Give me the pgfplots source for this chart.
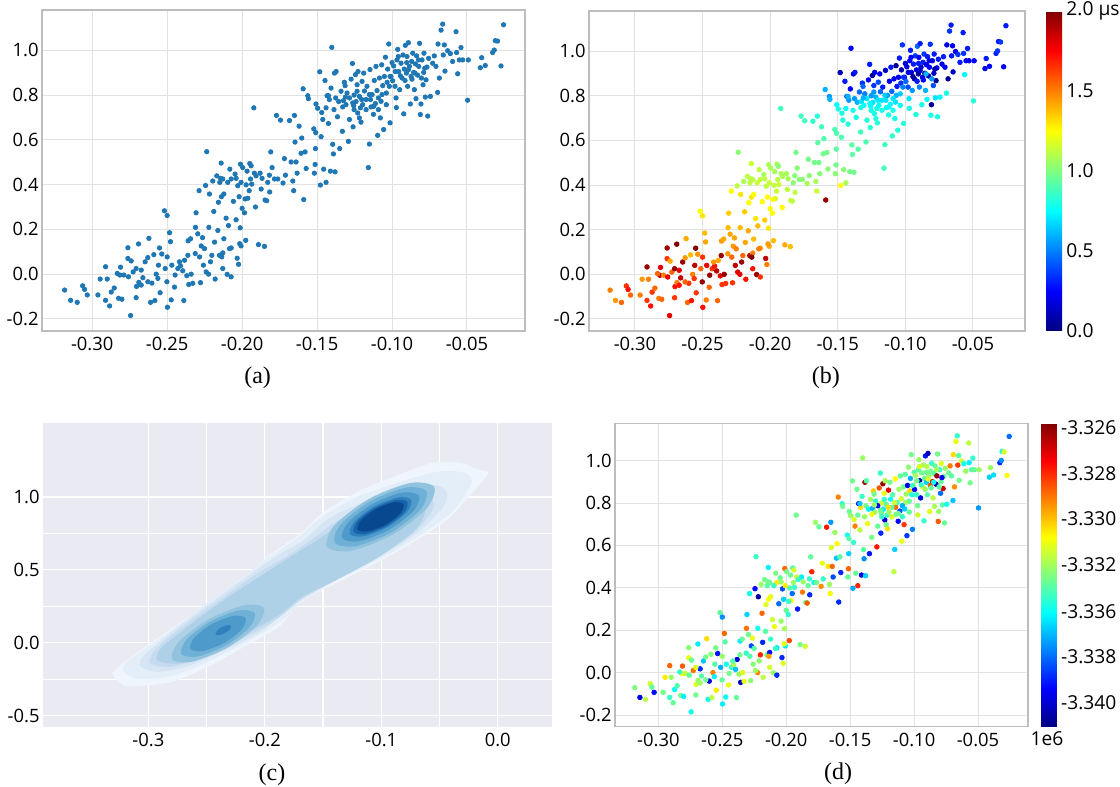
\documentclass[border=0pt]{standalone}
\usepackage{fontspec}
\setmainfont{Open Sans}
\newfontfamily\capfont{Liberation Serif}
\usepackage{pgfplots}
\usepackage{pgfplotstable}
\pgfplotsset{compat=1.18}

\definecolor{ptblue}{HTML}{1F77B4}
\definecolor{gridc}{HTML}{E2E2E2}
\definecolor{framec}{HTML}{BDBDBD}
\definecolor{kdebg}{HTML}{EAEAF2}
\definecolor{k1}{RGB}{239,245,252}
\definecolor{k2}{RGB}{227,238,249}
\definecolor{k3}{RGB}{213,229,244}
\definecolor{k4}{RGB}{198,219,239}
\definecolor{k5}{RGB}{174,209,231}
\definecolor{k6}{RGB}{146,195,222}
\definecolor{k7}{RGB}{111,176,215}
\definecolor{k8}{RGB}{78,154,202}
\definecolor{k9}{RGB}{48,128,189}
\definecolor{k10}{RGB}{24,100,170}
\definecolor{k11}{RGB}{8,72,143}

\pgfplotstableread{
x y b d
-0.3184 -0.071 1.50 -3.3334
-0.3144 -0.117 1.45 -3.3395
-0.3100 -0.126 1.55 -3.3325
-0.3064 -0.052 1.65 -3.3322
-0.3051 -0.068 1.72 -3.3338
-0.3033 -0.093 1.55 -3.3390
-0.2962 -0.093 1.50 -3.3336
-0.2947 -0.022 1.45 -3.3312
-0.2911 -0.117 1.65 -3.3345
-0.2911 0.033 1.95 -3.3292
-0.2900 -0.022 1.50 -3.3330
-0.2884 -0.142 1.72 -3.3338
-0.2873 -0.080 1.65 -3.3352
-0.2853 -0.062 1.55 -3.3340
-0.2824 -0.108 1.50 -3.3336
-0.2816 -0.004 1.88 -3.3315
-0.2811 0.031 1.80 -3.3290
-0.2802 -0.112 1.55 -3.3355
-0.2762 0.118 1.95 -3.3333
-0.2762 0.070 1.65 -3.3318
-0.2744 -0.185 1.80 -3.3350
-0.2740 0.059 1.42 -3.3338
-0.2727 0.010 1.55 -3.3294
-0.2707 -0.105 1.65 -3.3336
-0.2704 -0.055 1.72 -3.3320
-0.2691 0.135 2.00 -3.3355
-0.2689 -0.037 1.50 -3.3330
-0.2673 0.018 1.80 -3.3385
-0.2662 -0.016 1.88 -3.3340
-0.2647 0.055 1.95 -3.3362
-0.2629 0.074 1.45 -3.3335
-0.2622 0.160 1.42 -3.3310
-0.2611 -0.126 1.55 -3.3352
-0.2602 -0.040 1.65 -3.3395
-0.2589 0.087 1.38 -3.3333
-0.2582 -0.118 1.72 -3.3325
-0.2573 0.000 1.50 -3.3296
-0.2558 0.040 1.88 -3.3340
-0.2551 0.117 2.00 -3.3336
-0.2547 -0.083 1.65 -3.3312
-0.2536 0.090 1.45 -3.3388
-0.2518 0.283 1.25 -3.3338
-0.2513 0.025 1.55 -3.3365
-0.2502 -0.034 1.95 -3.3338
-0.2500 0.262 1.30 -3.3370
-0.2500 0.077 1.65 -3.3331
-0.2498 -0.148 1.72 -3.3355
-0.2484 0.185 1.38 -3.3292
-0.2478 0.145 1.42 -3.3340
-0.2473 -0.115 1.50 -3.3352
-0.2469 0.040 1.80 -3.3350
-0.2451 -0.058 1.55 -3.3318
-0.2447 -0.004 1.95 -3.3335
-0.2429 0.025 1.65 -3.3345
-0.2411 0.037 1.72 -3.3328
-0.2396 0.015 1.88 -3.3362
-0.2389 -0.118 1.55 -3.3338
-0.2384 0.062 1.42 -3.3395
-0.2369 -0.007 1.80 -3.3330
-0.2360 0.149 1.45 -3.3356
-0.2356 -0.046 1.65 -3.3400
-0.2344 0.158 1.42 -3.3338
-0.2340 0.000 1.95 -3.3320
-0.2313 0.092 1.45 -3.3345
-0.2311 0.209 1.38 -3.3294
-0.2307 0.274 1.35 -3.3360
-0.2296 0.180 1.42 -3.3336
-0.2287 0.373 1.25 -3.3350
-0.2278 -0.038 1.65 -3.3332
-0.2273 0.126 1.45 -3.3380
-0.2264 0.163 1.42 -3.3318
-0.2258 0.040 1.88 -3.3333
-0.2251 0.114 1.50 -3.3340
-0.2244 0.396 1.12 -3.3390
-0.2236 0.547 1.02 -3.3345
-0.2224 0.000 1.80 -3.3296
-0.2222 0.209 1.38 -3.3350
-0.2218 0.358 1.30 -3.3405
-0.2211 0.055 1.95 -3.3332
-0.2202 0.084 1.55 -3.3282
-0.2196 0.416 1.08 -3.3330
-0.2189 0.280 1.35 -3.3292
-0.2180 -0.022 1.72 -3.3325
-0.2169 0.439 1.12 -3.3336
-0.2162 0.195 1.42 -3.3340
-0.2158 0.321 1.25 -3.3320
-0.2151 0.084 1.88 -3.3336
-0.2140 0.496 1.15 -3.3355
-0.2138 0.346 1.30 -3.3315
-0.2129 0.095 1.50 -3.3390
-0.2122 0.158 1.38 -3.3345
-0.2107 0.250 1.30 -3.3322
-0.2100 -0.001 1.95 -3.3330
-0.2091 0.217 1.38 -3.3318
-0.2082 0.469 1.12 -3.3334
-0.2073 -0.012 1.65 -3.3385
-0.2073 0.117 1.45 -3.3358
-0.2073 0.425 1.12 -3.3312
-0.2058 0.325 1.25 -3.3375
-0.2047 0.447 1.08 -3.3338
-0.2040 0.243 1.35 -3.3330
-0.2033 0.071 1.88 -3.3385
-0.2029 0.395 1.12 -3.3380
-0.2024 0.044 1.50 -3.3320
-0.2020 0.346 1.25 -3.3360
-0.2013 0.207 1.30 -3.3328
-0.2011 0.491 1.08 -3.3292
-0.2007 0.126 1.42 -3.3355
-0.2000 0.294 1.25 -3.3338
-0.1984 0.274 1.25 -3.3346
-0.1976 0.151 1.38 -3.3288
-0.1967 0.460 1.08 -3.3336
-0.1962 0.339 1.15 -3.3315
-0.1953 0.373 1.15 -3.3375
-0.1949 0.494 1.08 -3.3340
-0.1944 0.425 1.12 -3.3330
-0.1936 0.402 1.15 -3.3345
-0.1922 0.743 0.88 -3.3336
-0.1911 0.300 1.25 -3.3388
-0.1891 0.132 1.42 -3.3335
-0.1880 0.451 1.08 -3.3355
-0.1873 0.380 1.12 -3.3295
-0.1851 0.124 1.38 -3.3322
-0.1847 0.331 1.15 -3.3338
-0.1836 0.328 1.12 -3.3290
-0.1818 0.442 1.02 -3.3345
-0.1816 0.367 1.12 -3.3385
-0.1809 0.546 0.98 -3.3338
-0.1800 0.476 1.02 -3.3282
-0.1784 0.425 1.02 -3.3350
-0.1771 0.709 0.88 -3.3330
-0.1762 0.425 1.02 -3.3336
-0.1744 0.688 0.88 -3.3338
-0.1727 0.407 1.08 -3.3298
-0.1718 0.516 0.98 -3.3318
-0.1711 0.442 1.02 -3.3345
-0.1684 0.686 0.85 -3.3280
-0.1673 0.501 0.98 -3.3312
-0.1662 0.416 1.08 -3.3330
-0.1656 0.373 1.15 -3.3316
-0.1651 0.709 0.82 -3.3368
-0.1647 0.590 0.93 -3.3320
-0.1640 0.501 0.98 -3.3292
-0.1633 0.451 1.02 -3.3380
-0.1620 0.661 0.88 -3.3330
-0.1607 0.540 0.98 -3.3362
-0.1602 0.608 0.90 -3.3315
-0.1593 0.828 0.60 -3.3296
-0.1589 0.333 1.95 -3.3385
-0.1580 0.546 0.98 -3.3340
-0.1573 0.472 1.02 -3.3385
-0.1562 0.797 0.55 -3.3345
-0.1558 0.784 0.60 -3.3336
-0.1522 0.649 0.90 -3.3350
-0.1518 0.451 1.02 -3.3338
-0.1513 0.490 0.98 -3.3292
-0.1511 0.561 0.93 -3.3360
-0.1509 0.632 0.90 -3.3340
-0.1507 0.760 0.75 -3.3338
-0.1496 0.741 0.80 -3.3330
-0.1482 0.904 0.10 -3.3336
-0.1478 0.398 1.25 -3.3366
-0.1473 0.614 0.90 -3.3345
-0.1469 0.722 0.80 -3.3320
-0.1462 0.691 0.82 -3.3296
-0.1456 0.469 1.02 -3.3338
-0.1447 0.865 0.30 -3.3336
-0.1440 0.410 1.08 -3.3282
-0.1433 0.797 0.45 -3.3390
-0.1424 0.673 0.82 -3.3325
-0.1418 0.780 0.55 -3.3310
-0.1411 0.460 0.98 -3.3395
-0.1407 0.831 0.25 -3.3345
-0.1402 1.013 0.25 -3.3330
-0.1396 0.580 0.93 -3.3340
-0.1391 0.537 0.93 -3.3370
-0.1384 0.898 0.15 -3.3263
-0.1380 0.457 0.98 -3.3360
-0.1376 0.787 0.55 -3.3336
-0.1373 0.905 0.30 -3.3340
-0.1364 0.703 0.80 -3.3318
-0.1356 0.771 0.60 -3.3355
-0.1349 0.561 0.93 -3.3388
-0.1340 0.817 0.45 -3.3328
-0.1331 0.638 0.88 -3.3335
-0.1324 0.775 0.70 -3.3365
-0.1318 0.857 0.35 -3.3308
-0.1313 0.842 0.45 -3.3336
-0.1307 0.757 0.75 -3.3330
-0.1300 0.809 0.50 -3.3348
-0.1291 0.593 0.90 -3.3280
-0.1284 0.691 0.82 -3.3338
-0.1273 0.871 0.25 -3.3290
-0.1264 0.941 0.30 -3.3345
-0.1260 0.658 0.82 -3.3385
-0.1256 0.753 0.75 -3.3336
-0.1253 0.800 0.55 -3.3322
-0.1244 0.891 0.05 -3.3262
-0.1240 0.771 0.70 -3.3355
-0.1233 0.846 0.35 -3.3318
-0.1229 0.720 0.80 -3.3396
-0.1227 0.905 0.20 -3.3328
-0.1218 0.794 0.60 -3.3338
-0.1211 0.743 0.80 -3.3345
-0.1207 0.679 0.82 -3.3310
-0.1200 0.861 0.40 -3.3275
-0.1196 0.757 0.75 -3.3330
-0.1189 0.898 0.25 -3.3336
-0.1184 0.818 0.45 -3.3352
-0.1173 0.735 0.80 -3.3320
-0.1167 0.839 0.30 -3.3340
-0.1158 0.476 0.88 -3.3325
-0.1151 0.581 0.88 -3.3360
-0.1147 0.914 0.15 -3.3315
-0.1144 0.780 0.70 -3.3292
-0.1140 0.747 0.75 -3.3336
-0.1133 0.802 0.55 -3.3345
-0.1124 0.714 0.80 -3.3390
-0.1118 0.865 0.20 -3.3330
-0.1111 0.762 0.75 -3.3380
-0.1107 0.928 0.30 -3.3338
-0.1100 0.820 0.45 -3.3322
-0.1096 0.620 0.85 -3.3318
-0.1091 0.735 0.80 -3.3345
-0.1084 0.876 0.25 -3.3336
-0.1078 0.698 0.80 -3.3285
-0.1073 0.772 0.70 -3.3360
-0.1069 0.935 0.05 -3.3340
-0.1062 0.842 0.30 -3.3330
-0.1056 0.646 0.82 -3.3383
-0.1051 0.883 0.20 -3.3395
-0.1044 0.969 0.30 -3.3332
-0.1038 0.757 0.75 -3.3338
-0.1033 0.857 0.35 -3.3310
-0.1029 0.916 0.10 -3.3365
-0.1022 1.028 0.35 -3.3336
-0.1018 0.839 0.50 -3.3348
-0.1013 0.676 0.82 -3.3372
-0.1007 0.883 0.25 -3.3320
-0.1000 0.945 0.15 -3.3340
-0.0996 0.864 0.45 -3.3390
-0.0989 0.930 0.20 -3.3328
-0.0980 0.839 0.40 -3.3345
-0.0973 0.787 0.70 -3.3336
-0.0971 0.744 0.80 -3.3322
-0.0967 0.957 0.25 -3.3340
-0.0962 1.004 0.30 -3.3330
-0.0956 0.905 0.15 -3.3402
-0.0949 0.824 0.55 -3.3395
-0.0940 0.942 0.30 -3.3336
-0.0933 0.876 0.10 -3.3320
-0.0927 0.979 0.35 -3.3330
-0.0922 0.716 0.82 -3.3345
-0.0918 0.916 0.20 -3.3338
-0.0911 1.022 0.45 -3.3388
-0.0904 0.898 0.05 -3.3360
-0.0900 0.972 0.25 -3.3325
-0.0896 0.839 0.50 -3.3340
-0.0891 1.034 0.30 -3.3400
-0.0884 0.928 0.15 -3.3332
-0.0878 0.760 0.80 -3.3320
-0.0873 0.883 0.20 -3.3290
-0.0869 0.950 0.30 -3.3336
-0.0862 0.987 0.35 -3.3345
-0.0856 0.901 0.05 -3.3276
-0.0851 0.824 0.60 -3.3325
-0.0844 0.939 0.20 -3.3340
-0.0840 0.784 0.75 -3.3328
-0.0836 0.975 0.30 -3.3338
-0.0829 0.889 0.10 -3.3402
-0.0822 0.928 0.25 -3.3262
-0.0816 1.031 0.35 -3.3336
-0.0811 0.713 0.80 -3.3290
-0.0807 0.760 0.05 -3.3330
-0.0800 0.957 0.20 -3.3345
-0.0793 0.846 0.40 -3.3375
-0.0789 0.901 0.15 -3.3338
-0.0787 0.987 0.30 -3.3320
-0.0778 0.791 0.70 -3.3340
-0.0773 0.868 0.05 -3.3270
-0.0767 0.925 0.25 -3.3336
-0.0762 0.706 0.80 -3.3338
-0.0756 0.964 0.30 -3.3330
-0.0744 0.794 0.75 -3.3350
-0.0729 0.942 0.20 -3.3336
-0.0718 0.975 0.30 -3.3295
-0.0707 0.928 0.25 -3.3340
-0.0696 0.812 0.80 -3.3362
-0.0693 1.028 0.20 -3.3310
-0.0684 0.876 0.05 -3.3298
-0.0673 1.090 0.35 -3.3318
-0.0662 1.117 0.30 -3.3345
-0.0658 0.979 0.30 -3.3285
-0.0651 1.024 0.25 -3.3340
-0.0647 0.907 0.15 -3.3336
-0.0629 0.998 0.20 -3.3322
-0.0611 0.985 0.35 -3.3350
-0.0596 0.950 0.30 -3.3330
-0.0573 1.083 0.30 -3.3325
-0.0569 0.990 0.35 -3.3355
-0.0562 0.895 0.75 -3.3336
-0.0551 0.957 0.25 -3.3340
-0.0540 1.012 0.30 -3.3345
-0.0529 0.957 0.20 -3.3338
-0.0496 0.777 0.82 -3.3368
-0.0491 0.957 0.25 -3.3330
-0.0411 0.922 0.20 -3.3360
-0.0402 0.967 0.30 -3.3330
-0.0378 0.932 0.25 -3.3358
-0.0329 0.990 0.30 -3.3385
-0.0318 1.001 0.35 -3.3370
-0.0311 1.043 0.30 -3.3352
-0.0296 1.041 0.35 -3.3320
-0.0273 0.930 0.25 -3.3315
-0.0256 1.114 0.30 -3.3375
-0.2149 0.410 1.12 -3.3340
-0.2129 0.425 1.12 -3.3338
-0.2007 0.410 1.15 -3.3312
-0.1980 0.336 1.25 -3.3345
-0.1918 0.451 1.08 -3.3322
-0.2362 0.084 1.95 -3.3336
-0.2329 -0.041 1.65 -3.3318
-0.2284 0.077 1.55 -3.3340
-0.2240 0.010 1.80 -3.3330
-0.2184 0.143 1.42 -3.3386
-0.2136 0.077 2.00 -3.3300
-0.2129 0.025 1.72 -3.3322
-0.2084 0.114 1.50 -3.3345
-0.2016 0.136 1.45 -3.3318
-0.2629 -0.034 1.55 -3.3336
-0.2673 -0.049 1.72 -3.3330
-0.2562 -0.019 1.65 -3.3355
-0.2418 0.055 1.45 -3.3340
-0.2789 -0.004 1.50 -3.3325
-0.2758 -0.012 1.80 -3.3338
-0.2833 0.003 1.55 -3.3345
-0.2707 0.025 1.95 -3.3320
-0.0978 0.905 0.20 -3.3336
-0.0944 0.886 0.05 -3.3345
-0.0913 0.865 0.30 -3.3330
-0.0891 0.913 0.15 -3.3320
-0.0867 0.871 0.25 -3.3338
-0.0847 0.898 0.60 -3.3352
-0.0824 0.957 0.20 -3.3328
-0.0804 0.876 0.55 -3.3340
-0.0782 0.920 0.10 -3.3392
-0.0902 0.945 0.30 -3.3336
-0.0958 0.972 0.25 -3.3320
-0.1013 0.883 0.35 -3.3345
-0.1038 0.809 0.65 -3.3338
-0.1067 0.802 0.60 -3.3330
-0.1091 0.787 0.70 -3.3365
-0.1122 0.750 0.75 -3.3336
-0.1151 0.802 0.65 -3.3322
-0.1173 0.780 0.70 -3.3340
-0.1202 0.780 0.70 -3.3310
-0.1233 0.817 0.55 -3.3345
-0.1262 0.765 0.75 -3.3336
-0.1284 0.787 0.70 -3.3390
-0.1311 0.791 0.60 -3.3330
-0.1329 0.747 0.80 -3.3318
-0.1218 0.698 0.82 -3.3336
-0.1253 0.735 0.80 -3.3345
-0.1424 0.797 0.60 -3.3362
-0.1387 0.735 0.80 -3.3330
-0.1440 0.743 0.75 -3.3338
-0.2144 0.428 1.12 -3.3336
-0.2122 0.358 1.25 -3.3318
-0.2096 0.410 1.15 -3.3345
-0.2040 0.428 1.12 -3.3330
-0.1996 0.476 1.08 -3.3336
-0.1973 0.399 1.12 -3.3340
-0.1940 0.484 1.02 -3.3322
-0.1907 0.439 1.08 -3.3345
-0.1867 0.428 1.08 -3.3330
-0.1829 0.410 1.02 -3.3338
}\pts

\pgfplotsset{
  basestyle/.style={
    scale only axis,
    major tick length=0pt,
    minor tick length=0pt,
    tick label style={font=\fontsize{9.2}{10}\selectfont},
    xticklabel style={inner sep=0pt, yshift=-3pt},
    yticklabel style={inner sep=0pt, xshift=-1.5pt},
  },
  scatstyle/.style={
    basestyle,
    grid=major,
    major grid style={gridc, line width=0.5pt},
    axis line style={framec, line width=0.6pt},
    xtick={-0.30,-0.25,-0.20,-0.15,-0.10,-0.05},
    xticklabels={-0.30,-0.25,-0.20,-0.15,-0.10,-0.05},
    ytick={-0.2,0,0.2,0.4,0.6,0.8,1.0},
    yticklabels={-0.2,0.0,0.2,0.4,0.6,0.8,1.0},
  },
  cbstyle/.style={
    major tick length=0pt,
    axis line style={draw=none},
    yticklabel style={font=\fontsize{9.6}{10}\selectfont, inner sep=0pt, xshift=2pt},
  },
  kdel/.style={draw=none, fill=#1, smooth cycle, forget plot},
}

\begin{document}
\begin{tikzpicture}
\useasboundingbox (0,0) rectangle (560pt,393.5pt);

% (a)
\begin{axis}[scatstyle,
  at={(21pt,228pt)}, anchor=south west,
  width=241.5pt, height=160.5pt,
  xmin=-0.3335, xmax=-0.0113, ymin=-0.254, ymax=1.18]
\addplot[only marks, mark=*, mark size=1.1pt, color=ptblue] table[x=x,y=y] {\pts};
\end{axis}

% (b)
\begin{axis}[scatstyle,
  at={(294.5pt,228pt)}, anchor=south west,
  width=218pt, height=160pt,
  xmin=-0.3340, xmax=-0.0115, ymin=-0.254, ymax=1.18,
  colormap/jet, point meta min=0, point meta max=2,
  colorbar,
  colorbar style={cbstyle,
    at={(parent axis.north east)}, anchor=north west, xshift=2pt,
    width=8pt,
    ytick={0,0.5,1,1.5,2},
    yticklabels={0.0,0.5,1.0,1.5,{2.0 μs}}}]
\addplot[scatter, only marks, mark=*, mark size=1.15pt, scatter src=explicit,
  scatter/use mapped color={draw=mapped color, fill=mapped color}]
  table[x=x,y=y,meta=b] {\pts};
\end{axis}

% (c)
\begin{axis}[basestyle,
  at={(21.5pt,30pt)}, anchor=south west,
  width=254.5pt, height=152pt,
  xmin=-0.3905, xmax=0.0466, ymin=-0.577, ymax=1.507,
  axis background/.style={fill=kdebg},
  axis line style={draw=none},
  grid=both, minor tick num=1,
  major grid style={white, line width=0.6pt},
  minor grid style={white, line width=0.6pt},
  xtick={-0.3,-0.2,-0.1,0.0},
  xticklabels={-0.3,-0.2,-0.1,0.0},
  ytick={-0.5,0,0.5,1.0},
  yticklabels={-0.5,0.0,0.5,1.0}]
\addplot[kdel=k1] coordinates {(-0.3307,-0.2215) (-0.3215,-0.2900) (-0.3107,-0.2968) (-0.2831,-0.2740) (-0.2678,-0.2329) (-0.2433,-0.1416) (-0.2126,-0.0046) (-0.1880,0.1096) (-0.1727,0.2466) (-0.1574,0.3379) (-0.1359,0.4178) (-0.1052,0.5434) (-0.0745,0.6804) (-0.0439,0.8402) (-0.0224,1.0228) (-0.0101,1.1370) (-0.0086,1.1712) (-0.0193,1.1941) (-0.0285,1.2283) (-0.0408,1.2397) (-0.0592,1.2283) (-0.0899,1.1370) (-0.1206,1.0342) (-0.1512,0.8858) (-0.1696,0.7489) (-0.1942,0.6119) (-0.2187,0.4521) (-0.2494,0.2694) (-0.2739,0.1324) (-0.2985,-0.0046) (-0.3169,-0.1073) (-0.3291,-0.1872)};
\addplot[kdel=k2] coordinates {(-0.3215,-0.1872) (-0.3107,-0.2443) (-0.2831,-0.2329) (-0.2555,-0.1530) (-0.2156,0.0068) (-0.1850,0.1553) (-0.1666,0.2922) (-0.1359,0.4406) (-0.1021,0.5708) (-0.0715,0.7146) (-0.0408,0.8858) (-0.0255,1.0457) (-0.0224,1.1256) (-0.0316,1.1712) (-0.0531,1.1712) (-0.0837,1.1027) (-0.1206,1.0000) (-0.1512,0.8630) (-0.1727,0.7146) (-0.2003,0.5662) (-0.2248,0.4178) (-0.2525,0.2580) (-0.2801,0.0868) (-0.3046,-0.0502) (-0.3184,-0.1301)};
\addplot[kdel=k3] coordinates {(-0.3061,-0.1644) (-0.2923,-0.1986) (-0.2678,-0.1644) (-0.2371,-0.0616) (-0.2064,0.0639) (-0.1819,0.2123) (-0.1635,0.3265) (-0.1328,0.4635) (-0.0991,0.6005) (-0.0684,0.7603) (-0.0469,0.9315) (-0.0439,1.0342) (-0.0531,1.0799) (-0.0745,1.0685) (-0.1113,0.9772) (-0.1451,0.8516) (-0.1666,0.7032) (-0.1911,0.5890) (-0.2156,0.4521) (-0.2433,0.2922) (-0.2709,0.1324) (-0.2954,-0.0274) (-0.3061,-0.1073)};
\addplot[kdel=k4] coordinates {(-0.2985,-0.1416) (-0.2801,-0.1644) (-0.2525,-0.0959) (-0.2187,0.0297) (-0.1911,0.1553) (-0.1696,0.2922) (-0.1420,0.4178) (-0.1083,0.5662) (-0.0745,0.7374) (-0.0561,0.9087) (-0.0577,1.0000) (-0.0745,1.0228) (-0.1052,0.9543) (-0.1390,0.8288) (-0.1604,0.7032) (-0.1819,0.5890) (-0.2064,0.4749) (-0.2310,0.3379) (-0.2555,0.2009) (-0.2801,0.0525) (-0.2954,-0.0616)};
\addplot[kdel=k5] coordinates {(-0.2923,-0.1187) (-0.2739,-0.1416) (-0.2463,-0.0731) (-0.2156,0.0639) (-0.1880,0.1895) (-0.1681,0.3151) (-0.1390,0.4292) (-0.1021,0.5890) (-0.0715,0.7717) (-0.0623,0.9087) (-0.0745,0.9772) (-0.1021,0.9315) (-0.1328,0.8174) (-0.1574,0.6918) (-0.1758,0.6005) (-0.2003,0.4749) (-0.2248,0.3493) (-0.2494,0.2123) (-0.2739,0.0639) (-0.2893,-0.0388)};
% upper core
\addplot[kdel=k6] coordinates {(-0.0546,1.0688) (-0.0610,0.9213) (-0.0907,0.7397) (-0.1261,0.6303) (-0.1466,0.6572) (-0.1402,0.8047) (-0.1106,0.9863) (-0.0751,1.0957)};
\addplot[kdel=k7] coordinates {(-0.0612,1.0394) (-0.0666,0.9116) (-0.0919,0.7554) (-0.1223,0.6622) (-0.1400,0.6866) (-0.1346,0.8144) (-0.1093,0.9706) (-0.0789,1.0638)};
\addplot[kdel=k8] coordinates {(-0.0677,1.0100) (-0.0723,0.9047) (-0.0935,0.7750) (-0.1188,0.6968) (-0.1335,0.7160) (-0.1289,0.8213) (-0.1077,0.9511) (-0.0824,1.0292)};
\addplot[kdel=k9] coordinates {(-0.0743,0.9806) (-0.0780,0.8963) (-0.0949,0.7926) (-0.1152,0.7301) (-0.1269,0.7454) (-0.1232,0.8297) (-0.1063,0.9334) (-0.0860,0.9960)};
\addplot[kdel=k10] coordinates {(-0.0776,0.9660) (-0.0805,0.8920) (-0.0955,0.8010) (-0.1135,0.7460) (-0.1236,0.7600) (-0.1205,0.8340) (-0.1055,0.9245) (-0.0875,0.9795)};
\addplot[kdel=k11] coordinates {(-0.0809,0.9512) (-0.0836,0.8880) (-0.0963,0.8102) (-0.1115,0.7633) (-0.1203,0.7748) (-0.1176,0.8380) (-0.1049,0.9158) (-0.0897,0.9627)};
% lower core
\addplot[kdel=k6] coordinates {(-0.2008,0.2404) (-0.2067,0.1195) (-0.2323,-0.0338) (-0.2625,-0.1299) (-0.2796,-0.1124) (-0.2737,0.0085) (-0.2481,0.1618) (-0.2179,0.2579)};
\addplot[kdel=k7] coordinates {(-0.2087,0.2051) (-0.2132,0.1057) (-0.2336,-0.0182) (-0.2578,-0.0939) (-0.2718,-0.0771) (-0.2672,0.0223) (-0.2468,0.1462) (-0.2226,0.2219)};
\addplot[kdel=k8] coordinates {(-0.2165,0.1698) (-0.2198,0.0932) (-0.2350,-0.0006) (-0.2533,-0.0565) (-0.2639,-0.0418) (-0.2606,0.0348) (-0.2454,0.1286) (-0.2272,0.1845)};
\addplot[kdel=k9] coordinates {(-0.2290,0.1162) (-0.2298,0.0938) (-0.2340,0.0672) (-0.2391,0.0522) (-0.2422,0.0574) (-0.2414,0.0799) (-0.2372,0.1064) (-0.2321,0.1214)};
\end{axis}

% (d)
\begin{axis}[scatstyle,
  at={(307.5pt,30.15pt)}, anchor=south west,
  width=206.5pt, height=151.7pt,
  xmin=-0.3339, xmax=-0.0109, ymin=-0.255, ymax=1.176,
  colormap/jet, point meta min=-3.3410, point meta max=-3.3258,
  colorbar,
  colorbar style={cbstyle,
    at={(parent axis.north east)}, anchor=north west, xshift=-2pt,
    width=7.85pt,
    ytick={-3.32604,-3.32834,-3.33059,-3.33290,-3.33525,-3.33751,-3.33981},
    yticklabels={-3.326,-3.328,-3.330,-3.332,-3.336,-3.338,-3.340}}]
\addplot[scatter, only marks, mark=*, mark size=1.15pt, scatter src=explicit,
  scatter/use mapped color={draw=mapped color, fill=mapped color}]
  table[x=x,y=y,meta=d] {\pts};
\end{axis}

\node[font=\fontsize{9.6}{10}\selectfont] at (523.5pt,24pt) {1e6};

\node[font=\capfont\fontsize{12}{14}\selectfont] at (128.8pt,204.5pt) {(a)};
\node[font=\capfont\fontsize{12}{14}\selectfont] at (412.9pt,204.5pt) {(b)};
\node[font=\capfont\fontsize{12}{14}\selectfont] at (136pt,6pt) {(c)};
\node[font=\capfont\fontsize{12}{14}\selectfont] at (419pt,6.5pt) {(d)};
\end{tikzpicture}
\end{document}
